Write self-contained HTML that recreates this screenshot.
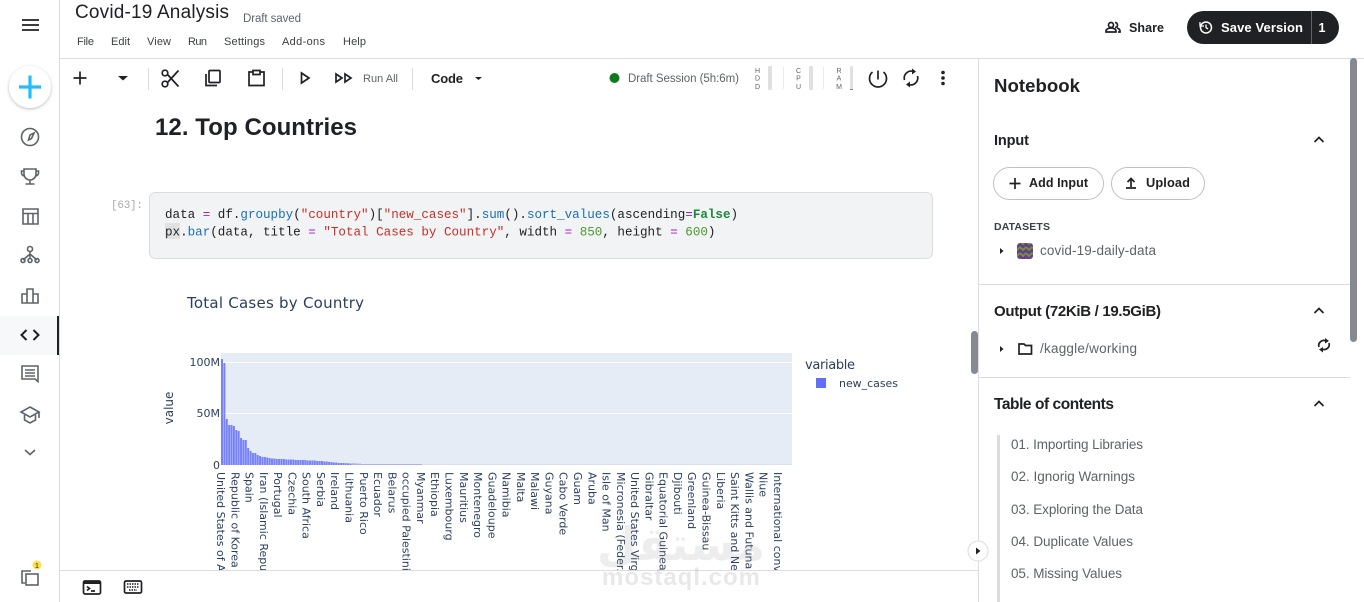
<!DOCTYPE html>
<html><head><meta charset="utf-8"><title>Covid-19 Analysis</title>
<style>
html,body{margin:0;padding:0;background:#fff;width:1364px;height:602px;overflow:hidden}
svg{display:block}
text{font-family:"Liberation Sans",sans-serif;fill:#202124}
.m{font-size:11px;fill:#3c4043}
.g{fill:#5f6368}
.b{font-weight:bold}
.c tspan,.c{font-family:"Liberation Mono",monospace;font-size:12.57px;white-space:pre}
.d{font-family:"DejaVu Sans",sans-serif;fill:#2a3f5f}
.i{fill:none;stroke:#5f6368;stroke-width:1.6}
.k{fill:none;stroke:#202124;stroke-width:1.7}
.l text{font-family:"DejaVu Sans",sans-serif;font-size:11px;fill:#2a3f5f}
.r{font-size:7px;fill:#5f6368;text-anchor:middle}
.t{font-size:13.5px;fill:#5f6368}
</style></head><body>
<svg width="1364" height="602" viewBox="0 0 1364 602" xmlns="http://www.w3.org/2000/svg">
<defs>
<clipPath id="cl"><rect x="150" y="470" width="650" height="100"/></clipPath>
<filter id="sh" x="-30%" y="-30%" width="160%" height="160%"><feDropShadow dx="0" dy="1" stdDeviation="1.6" flood-color="#000" flood-opacity=".28"/></filter>
<pattern id="zz" width="6" height="6" patternUnits="userSpaceOnUse"><rect width="6" height="6" fill="#6a3d8f"/><path d="M0 1l3 3 3-3" fill="none" stroke="#6f9a2c" stroke-width="1.8"/></pattern>
</defs>
<rect width="1364" height="602" fill="#fff"/>

<!-- sidebar -->
<rect x="59" y="0" width="1" height="602" fill="#dadce0"/>
<rect x="0" y="316" width="57" height="39" fill="#f7f8fa"/>
<rect x="57" y="316" width="2" height="39" fill="#202124"/>
<path d="M22 20h17M22 25h17M22 30h17" stroke="#202124" stroke-width="1.7" fill="none"/>
<circle cx="30" cy="87" r="21" fill="#fff" filter="url(#sh)"/>
<path d="M30 75.500v23M19 87h22" stroke="#20beff" stroke-width="3.200" fill="none"/>
<circle class="i" cx="30" cy="137" r="8.500"/><path d="M34 133l-2.500 5.500-3 1.500 1.500-5z" class="i" stroke-width="1.300"/>
<path class="i" d="M24 169h12v5a6 6 0 0 1-12 0zM24 171h-2.500v2a3 3 0 0 0 3 3M36 171h2.500v2a3 3 0 0 1-3 3M30 180v3.500M25.500 184h9"/>
<path class="i" d="M23 209h15v15h-15zM23 213.500h15M28 213.500v10.500M33 213.500v10.500"/>
<path class="i" d="M30 251v3M30 254l-7 6M30 254l7 6M30 254v5"/><circle class="i" cx="30" cy="249" r="2.500"/><circle class="i" cx="23" cy="260.500" r="2"/><circle class="i" cx="30" cy="260.500" r="2"/><circle class="i" cx="37" cy="260.500" r="2"/>
<path class="i" d="M22 303v-9h5v9zM27 303v-14h6v14zM33 303v-9h5v9z"/>
<path d="M26.500 330l-5 5 5 5M33.500 330l5 5-5 5" fill="none" stroke="#202124" stroke-width="2"/>
<path class="i" d="M22 366h16v15.500l-3-2.500h-13zM25 370h10M25 373h10M25 376h10"/>
<path class="i" d="M30 407l9 5-9 5-9-5zM24.500 415v5l5.500 3 5.500-3v-5M39 412v6"/>
<path d="M25 450l5 4.500 5-4.500" class="i"/>
<path class="i" d="M22 574v-3h9M22 571v12h3"/><rect class="i" x="26" y="574" width="12" height="11"/>
<circle cx="37" cy="565" r="4.500" fill="#fde047"/><text x="37" y="568" font-size="7" text-anchor="middle">1</text>

<!-- top -->
<rect x="60" y="58" width="1304" height="1" fill="#dadce0"/>
<text x="75" y="18" font-size="19" textLength="154">Covid-19 Analysis</text>
<text x="243" y="22" font-size="11.500" class="g" textLength="58">Draft saved</text>
<text class="m" x="77" y="45" textLength="17">File</text>
<text class="m" x="111" y="45" textLength="19">Edit</text>
<text class="m" x="147" y="45" textLength="24">View</text>
<text class="m" x="188" y="45" textLength="19">Run</text>
<text class="m" x="224" y="45" textLength="41">Settings</text>
<text class="m" x="282" y="45" textLength="43">Add-ons</text>
<text class="m" x="343" y="45" textLength="23">Help</text>

<!-- share -->
<circle class="k" cx="1111" cy="25" r="2.500" stroke-width="1.400"/><path class="k" stroke-width="1.400" d="M1106 32v-1c0-2 3-3 5-3s5 1 5 3v1zM1115 22.500a2.500 2.500 0 0 1 0 5M1117 28c1.500.5 3 1.500 3 3v1h-2"/>
<text x="1129" y="32" font-size="12.500" class="b" textLength="35">Share</text>
<rect x="1187" y="11" width="152" height="33" rx="16.500" fill="#202124"/>
<rect x="1311" y="11" width="1" height="33" fill="#5f6368"/>
<circle cx="1206" cy="27.500" r="5.500" fill="none" stroke="#fff" stroke-width="1.500"/><path d="M1206 24.500v3l2 1.500M1200 22v4h4" fill="none" stroke="#fff" stroke-width="1.300"/>
<text x="1221" y="32" font-size="13" class="b" style="fill:#fff" textLength="82">Save Version</text>
<text x="1322" y="32" font-size="12.500" class="b" style="fill:#fff" text-anchor="middle">1</text>

<!-- toolbar -->
<path class="k" d="M80 71.500v13M73.500 78h13"/>
<path d="M118 76h10l-5 4.500z" fill="#202124"/>
<rect x="148" y="68" width="1" height="22" fill="#dadce0"/>
<circle class="k" cx="165" cy="84" r="2.800"/><circle class="k" cx="165" cy="73" r="2.800"/><path class="k" d="M167.500 82.500l11-12M167.500 74.500l11 12"/>
<path class="k" d="M206 74v11.500h11"/><rect class="k" x="209" y="70.500" width="11" height="12" rx="1"/>
<path class="k" d="M253 72h-4v13.500h15v-13.500h-4M253 70.500h7v4h-7z"/>
<rect x="282" y="68" width="1" height="22" fill="#dadce0"/>
<path class="k" d="M301.500 73l7.500 5-7.500 5z"/>
<path class="k" d="M336 74l6 4-6 4zM345 74l6 4-6 4z"/>
<text x="363" y="82" font-size="11" class="g" textLength="35">Run All</text>
<rect x="412" y="68" width="1" height="22" fill="#dadce0"/>
<text x="431" y="83" font-size="13" class="b" textLength="32">Code</text>
<path d="M475 77h7l-3.500 3z" fill="#202124"/>

<circle cx="614.500" cy="78" r="5" fill="#0d7a20"/>
<text x="628" y="82" font-size="11.500" class="g" textLength="111">Draft Session (5h:6m)</text>
<text class="r" x="757.500" y="73">H</text><text class="r" x="757.500" y="80.500">D</text><text class="r" x="757.500" y="89">D</text>
<rect x="768" y="66" width="4" height="24" rx="1.500" fill="#e0e0e0"/>
<rect x="783" y="67" width="1" height="22" fill="#e8eaed"/>
<text class="r" x="798.500" y="73">C</text><text class="r" x="798.500" y="80.500">P</text><text class="r" x="798.500" y="89">U</text>
<rect x="809" y="66" width="4" height="24" rx="1.500" fill="#e0e0e0"/>
<rect x="823" y="67" width="1" height="22" fill="#e8eaed"/>
<text class="r" x="839" y="73">R</text><text class="r" x="839" y="80.500">A</text><text class="r" x="839" y="89">M</text>
<rect x="850" y="66" width="3" height="24" rx="1.500" fill="#e0e0e0"/><rect x="850" y="89" width="3" height="1" fill="#5f8fd0"/>
<path class="k" d="M878 70.500v9M872.500 72a8.500 8.500 0 1 0 11 0"/>
<path class="k" d="M904.500 80a7 7 0 0 1 9-8.500M917.500 76a7 7 0 0 1-9 8.500"/><path d="M912 68.500l4 3-4 3zM910 81.500l-4 3 4 3z" fill="#202124"/>
<circle cx="943" cy="72.500" r="1.800" fill="#202124"/><circle cx="943" cy="78" r="1.800" fill="#202124"/><circle cx="943" cy="83.500" r="1.800" fill="#202124"/>

<!-- notebook body -->
<text x="155" y="135" font-size="24" class="b" textLength="202">12. Top Countries</text>
<text x="111" y="208" font-size="11" style="font-family:'Liberation Mono',monospace;fill:#aaa" textLength="32">[63]:</text>
<rect x="149.500" y="192.500" width="783" height="66" rx="6" fill="#f1f3f4" stroke="#dadce0"/>
<rect x="165" y="223" width="15" height="16" fill="#e2e2e2"/>
<text class="c" x="165" y="218" xml:space="preserve">data <tspan fill="#a020c0">=</tspan> df.<tspan fill="#1a6fb5">groupby</tspan>(<tspan fill="#c5302a">"country"</tspan>)[<tspan fill="#c5302a">"new_cases"</tspan>].<tspan fill="#1a6fb5">sum</tspan>().<tspan fill="#1a6fb5">sort_values</tspan>(ascending<tspan fill="#a020c0">=</tspan><tspan fill="#1a8a3a" font-weight="bold">False</tspan>)</text>
<text class="c" x="165" y="235.500" xml:space="preserve">px.<tspan fill="#1a6fb5">bar</tspan>(data, title <tspan fill="#a020c0">=</tspan> <tspan fill="#c5302a">"Total Cases by Country"</tspan>, width <tspan fill="#a020c0">=</tspan> <tspan fill="#4c9a2a">850</tspan>, height <tspan fill="#a020c0">=</tspan> <tspan fill="#4c9a2a">600</tspan>)</text>

<!-- chart -->
<text class="d" x="187" y="308" font-size="15" textLength="177">Total Cases by Country</text>
<rect x="221" y="353" width="571" height="112" fill="#e5ecf6"/>
<path d="M221 362.500h571M221 413.500h571" stroke="#fff"/>
<path fill="#636efa" fill-opacity=".85" d="M221 465v-106h2v106m.38 0v-102h2v102m.38 0v-46h2v46m.38 0v-40h2v40m.38 0v-40h2v40m.38 0v-39h2v39m.38 0v-35h2v35m.38 0v-34h2v34m.38 0v-27h2v27m.38 0v-25h2v25m.38 0v-25h2v25m.38 0v-17h2v17m.38 0v-14h2v14m.38 0v-12h2v12m.38 0v-12h2v12m.38 0v-10h2v10m.38 0v-9h2v9m.38 0v-8h2v8m.38 0v-8h2v8m.38 0v-7.500h2v7.500m.38 0v-7h2v7m.38 0v-6.500h2v6.500m.38 0v-6.500h2v6.500m.38 0v-6h2v6m.38 0v-6h2v6m.38 0v-6h2v6m.38 0v-6h2v6m.38 0v-5.500h2v5.500m.38 0v-5.500h2v5.500m.38 0v-5.500h2v5.500m.38 0v-5.500h2v5.500m.38 0v-5h2v5m.38 0v-5h2v5m.38 0v-5h2v5m.38 0v-5h2v5m.38 0v-5h2v5m.38 0v-4.500h2v4.500m.38 0v-4.500h2v4.500m.38 0v-4.500h2v4.500m.38 0v-4.500h2v4.500m.38 0v-4h2v4m.38 0v-4h2v4m.38 0v-4h2v4m.38 0v-3.500h2v3.500m.38 0v-3.500h2v3.500m.38 0v-3h2v3m.38 0v-3h2v3m.38 0v-2.500h2v2.500m.38 0v-2.500h2v2.500m.38 0v-2h2v2m.38 0v-2h2v2m.38 0v-2h2v2m.38 0v-1.800h2v1.800m.38 0v-1.800h2v1.800m.38 0v-1.500h2v1.500m.38 0v-1.500h2v1.500m.38 0v-1.500h2v1.500m.38 0v-1.200h2v1.200m.38 0v-1.200h2v1.200z"/>
<rect x="352" y="464" width="70" height="1" fill="#a9b0f5"/><rect x="422" y="464.300" width="370" height=".7" fill="#d6dcf5"/>
<text class="d" x="220" y="366" font-size="11" text-anchor="end">100M</text>
<text class="d" x="220" y="417" font-size="11" text-anchor="end">50M</text>
<text class="d" x="220" y="469" font-size="11" text-anchor="end">0</text>
<text class="d" transform="translate(173 408) rotate(-90)" font-size="12" text-anchor="middle">value</text>
<text class="d" x="805" y="369" font-size="13" textLength="50">variable</text>
<rect x="816" y="378" width="10" height="10" fill="#636efa"/>
<text class="d" x="839" y="387" font-size="11" textLength="59">new_cases</text>

<g class="l" clip-path="url(#cl)">
<text transform="translate(217 472) rotate(90)">United States of A</text>
<text transform="translate(231.300 472) rotate(90)">Republic of Korea</text>
<text transform="translate(245.600 472) rotate(90)">Spain</text>
<text transform="translate(259.800 472) rotate(90)">Iran (Islamic Repu</text>
<text transform="translate(274.100 472) rotate(90)">Portugal</text>
<text transform="translate(288.400 472) rotate(90)">Czechia</text>
<text transform="translate(302.700 472) rotate(90)">South Africa</text>
<text transform="translate(317 472) rotate(90)">Serbia</text>
<text transform="translate(331.200 472) rotate(90)">Ireland</text>
<text transform="translate(345.500 472) rotate(90)">Lithuania</text>
<text transform="translate(359.800 472) rotate(90)">Puerto Rico</text>
<text transform="translate(374.100 472) rotate(90)">Ecuador</text>
<text transform="translate(388.400 472) rotate(90)">Belarus</text>
<text transform="translate(402.600 472) rotate(90)">occupied Palestini.</text>
<text transform="translate(416.900 472) rotate(90)">Myanmar</text>
<text transform="translate(431.200 472) rotate(90)">Ethiopia</text>
<text transform="translate(445.500 472) rotate(90)">Luxembourg</text>
<text transform="translate(459.800 472) rotate(90)">Mauritius</text>
<text transform="translate(474 472) rotate(90)">Montenegro</text>
<text transform="translate(488.300 472) rotate(90)">Guadeloupe</text>
<text transform="translate(502.600 472) rotate(90)">Namibia</text>
<text transform="translate(516.900 472) rotate(90)">Malta</text>
<text transform="translate(531.200 472) rotate(90)">Malawi</text>
<text transform="translate(545.400 472) rotate(90)">Guyana</text>
<text transform="translate(559.700 472) rotate(90)">Cabo Verde</text>
<text transform="translate(574 472) rotate(90)">Guam</text>
<text transform="translate(588.300 472) rotate(90)">Aruba</text>
<text transform="translate(602.600 472) rotate(90)">Isle of Man</text>
<text transform="translate(616.800 472) rotate(90)">Micronesia (Feder.</text>
<text transform="translate(631.100 472) rotate(90)">United States Virg</text>
<text transform="translate(645.400 472) rotate(90)">Gibraltar</text>
<text transform="translate(659.700 472) rotate(90)">Equatorial Guinea</text>
<text transform="translate(674 472) rotate(90)">Djibouti</text>
<text transform="translate(688.200 472) rotate(90)">Greenland</text>
<text transform="translate(702.500 472) rotate(90)">Guinea-Bissau</text>
<text transform="translate(716.800 472) rotate(90)">Liberia</text>
<text transform="translate(731.100 472) rotate(90)">Saint Kitts and Ne</text>
<text transform="translate(745.400 472) rotate(90)">Wallis and Futuna</text>
<text transform="translate(759.600 472) rotate(90)">Niue</text>
<text transform="translate(773.900 472) rotate(90)">International conv</text>
</g>

<!-- bottom bar -->
<rect x="60" y="570" width="918" height="1" fill="#dadce0"/>
<rect class="k" x="83.500" y="581" width="17" height="13" rx="1.500"/><path d="M83 581h18v3h-18z" fill="#202124"/><path class="k" stroke-width="1.300" d="M87 586.500l2.500 2-2.500 2M91 591h4"/>
<rect class="k" x="124.500" y="581" width="17" height="12" rx="1.500"/><path d="M127 584h12M127 587h12M129 590h8" stroke="#202124" stroke-width="1.400" stroke-dasharray="1.500 1" fill="none"/>

<!-- watermark -->
<text x="681" y="560" font-size="46" text-anchor="middle" style="font-family:'DejaVu Sans',sans-serif;font-weight:bold;fill:#9a9a9a;opacity:.17">مستقل</text>
<text x="681" y="585" font-size="24" text-anchor="middle" class="b" textLength="158" style="fill:#9a9a9a;opacity:.22">mostaql.com</text>

<!-- scrollbars -->
<rect x="971" y="331" width="7" height="43" rx="3.500" fill="#868a90"/>
<rect x="1350" y="58" width="7" height="284" rx="3.500" fill="#868a90"/>

<!-- right panel -->
<rect x="978" y="59" width="1" height="543" fill="#dadce0"/>
<text x="994" y="92" font-size="18.600" class="b" textLength="86">Notebook</text>
<text x="994" y="145" font-size="14.500" class="b" textLength="35">Input</text>
<path class="k" stroke-width="1.800" d="M1314.500 142l4.500-4.500 4.500 4.500"/>
<rect x="993.500" y="167.500" width="110" height="32" rx="16" fill="#fff" stroke="#bdc1c6"/>
<path class="k" d="M1015 178v11M1009.500 183.500h11"/>
<text x="1029" y="187" font-size="12.500" class="b" textLength="59">Add Input</text>
<rect x="1111.500" y="167.500" width="93" height="32" rx="16" fill="#fff" stroke="#bdc1c6"/>
<path class="k" stroke-width="1.300" d="M1131 187v-8M1127.500 182l3.500-3.500 3.500 3.500M1126 188h10"/>
<text x="1146" y="187" font-size="12.800" class="b" textLength="44">Upload</text>
<text x="994" y="230" font-size="10.500" class="b" style="fill:#3c4043" textLength="56">DATASETS</text>
<path d="M1000 248l3.500 3-3.500 3z" fill="#202124"/>
<rect x="1017" y="243" width="16" height="16" rx="3" fill="url(#zz)"/>
<text x="1040" y="255" class="t" textLength="116">covid-19-daily-data</text>
<rect x="979" y="284" width="371" height="1" fill="#dadce0"/>
<text x="994" y="316" font-size="15" class="b" textLength="167">Output (72KiB / 19.5GiB)</text>
<path class="k" stroke-width="1.800" d="M1314.500 313l4.500-4.500 4.500 4.500"/>
<path d="M1000 346l3.500 3-3.500 3z" fill="#202124"/>
<path class="k" stroke-width="1.300" d="M1019 344h5l1.500 1.500h6v8.500h-12.500z"/>
<text x="1040" y="353" class="t" textLength="97">/kaggle/working</text>
<path class="k" stroke-width="2" d="M1319 347a5 5 0 0 1 7-6M1329 343a5 5 0 0 1-7 6"/><path d="M1325 338l4 3-4 2.500zM1323 347l-4 2.500 4 3z" fill="#202124"/>
<rect x="979" y="377" width="371" height="1" fill="#dadce0"/>
<text x="994" y="409" font-size="15.500" class="b" textLength="120">Table of contents</text>
<path class="k" stroke-width="1.800" d="M1314.500 406l4.500-4.500 4.500 4.500"/>
<rect x="997" y="435" width="3" height="167" fill="#dadce0"/>
<text x="1011" y="449" class="t" textLength="132">01. Importing Libraries</text>
<text x="1011" y="481" class="t" textLength="124">02. Ignorig Warnings</text>
<text x="1011" y="514" class="t" textLength="132">03. Exploring the Data</text>
<text x="1011" y="546" class="t" textLength="122">04. Duplicate Values</text>
<text x="1011" y="578" class="t" textLength="111">05. Missing Values</text>
<circle cx="978" cy="551" r="10" fill="#fff" stroke="#dadce0"/><path d="M976 547.500l4.500 3.500-4.500 3.500z" fill="#202124"/>
</svg>
</body></html>
